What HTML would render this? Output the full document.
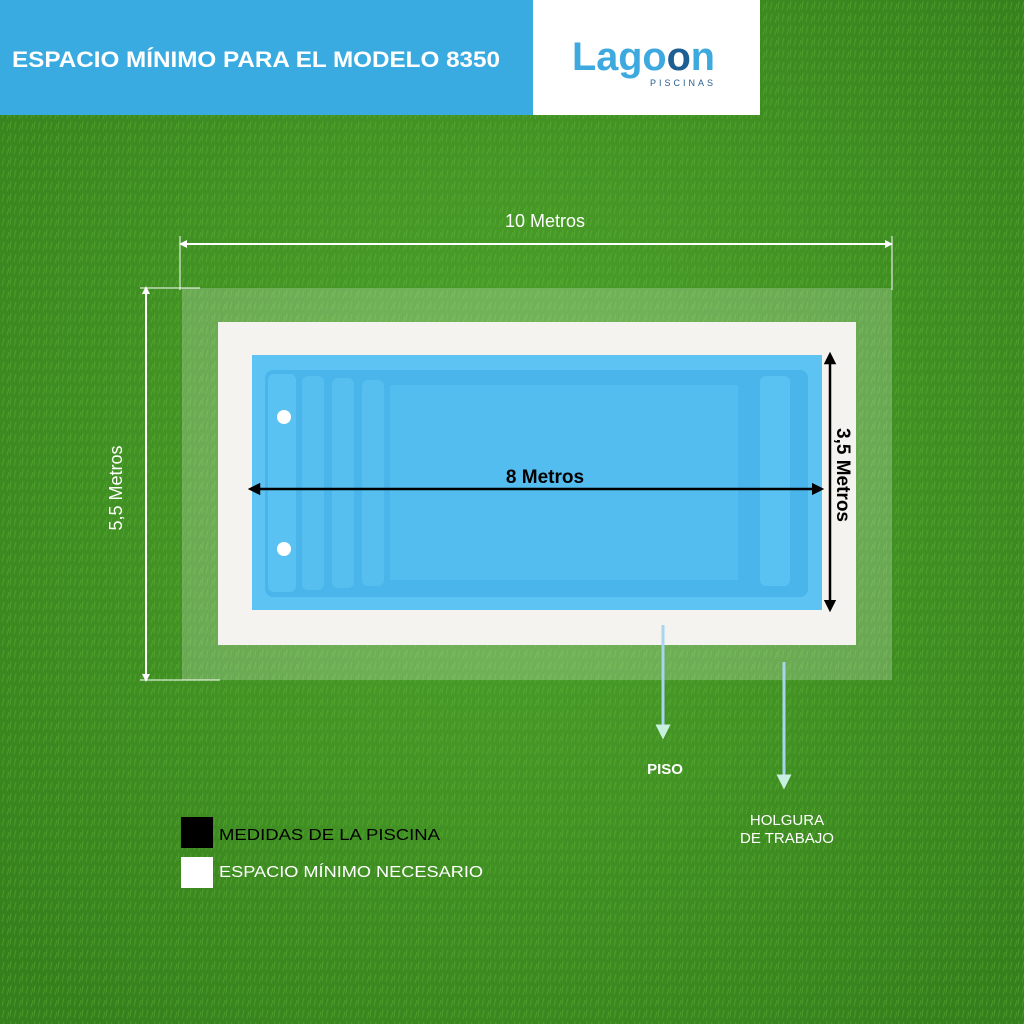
<!DOCTYPE html>
<html><head><meta charset="utf-8"><style>
body{margin:0;width:1024px;height:1024px;overflow:hidden;background:#3f8f22;font-family:"Liberation Sans",sans-serif}
</style></head><body>
<svg width="1024" height="1024" xmlns="http://www.w3.org/2000/svg" style="position:absolute;left:0;top:0">
<defs>
<radialGradient id="g" cx="50%" cy="45%" r="70%"><stop offset="0" stop-color="#4fa52c"/><stop offset="1" stop-color="#357f1c"/></radialGradient>
<pattern id="p" width="12" height="12" patternUnits="userSpaceOnUse"><path d="M2 10 L4 2 M7 11 L9 4 M10 9 L11 1" stroke="#6cc140" stroke-width="1" opacity=".35"/></pattern>
<marker id="a" markerWidth="5" markerHeight="5" refX="2.5" refY="2.5" orient="auto-start-reverse"><path d="M0 0 L5 2.5 L0 5z" fill="#000"/></marker>
<marker id="w" markerWidth="4" markerHeight="4" refX="2" refY="2" orient="auto-start-reverse"><path d="M0 0 L4 2 L0 4z" fill="#fff"/></marker>
<marker id="c" markerWidth="5" markerHeight="5" refX="2.5" refY="2.5" orient="auto"><path d="M0 0 L5 2.5 L0 5z" fill="#c8f0e0"/></marker>
</defs>
<rect width="1024" height="1024" fill="url(#g)"/>
<rect width="1024" height="1024" fill="url(#p)"/>
<rect x="0" y="0" width="533" height="115" fill="#3aabe0"/>
<text x="12" y="67" fill="#fff" font-size="22" font-weight="bold" textLength="488" lengthAdjust="spacingAndGlyphs">ESPACIO MÍNIMO PARA EL MODELO 8350</text>
<rect x="533" y="0" width="227" height="115" fill="#fff"/>
<text x="572" y="70" fill="#3ea9df" font-size="40" font-weight="bold" textLength="143" lengthAdjust="spacingAndGlyphs">Lago<tspan fill="#1e5f93">o</tspan>n</text>
<text x="650" y="86" fill="#2a5e8e" font-size="9" letter-spacing="3">PISCINAS</text>
<rect x="182" y="288" width="710" height="392" fill="#fff" opacity=".22"/>
<rect x="218" y="322" width="638" height="323" fill="#f5f3ef"/>
<rect x="252" y="355" width="570" height="255" fill="#5cc3f3"/>
<rect x="265" y="370" width="543" height="227" rx="8" fill="#4ab5ea"/>
<rect x="268" y="374" width="28" height="218" rx="6" fill="#5ac2f2"/>
<rect x="302" y="376" width="22" height="214" rx="6" fill="#56bff0"/>
<rect x="332" y="378" width="22" height="210" rx="6" fill="#56bff0"/>
<rect x="362" y="380" width="22" height="206" rx="6" fill="#56bff0"/>
<rect x="390" y="385" width="348" height="195" fill="#53bdef"/>
<rect x="760" y="376" width="30" height="210" rx="6" fill="#5ac2f2"/>
<circle cx="284" cy="417" r="7" fill="#fff"/>
<circle cx="284" cy="549" r="7" fill="#fff"/>
<line x1="183" y1="244" x2="889" y2="244" stroke="#fff" stroke-width="2" marker-start="url(#w)" marker-end="url(#w)"/>
<line x1="180" y1="236" x2="180" y2="290" stroke="#fff" stroke-width="1"/>
<line x1="892" y1="236" x2="892" y2="290" stroke="#fff" stroke-width="1"/>
<text x="545" y="227" fill="#fff" font-size="18" text-anchor="middle">10 Metros</text>
<line x1="146" y1="290" x2="146" y2="678" stroke="#fff" stroke-width="2" marker-start="url(#w)" marker-end="url(#w)"/>
<line x1="140" y1="288" x2="200" y2="288" stroke="#fff" stroke-width="1"/>
<line x1="140" y1="680" x2="220" y2="680" stroke="#fff" stroke-width="1"/>
<text transform="translate(122 488) rotate(-90)" fill="#fff" font-size="18" text-anchor="middle">5,5 Metros</text>
<line x1="254" y1="489" x2="818" y2="489" stroke="#000" stroke-width="2.5" marker-start="url(#a)" marker-end="url(#a)"/>
<text x="545" y="483" fill="#000" font-size="19" font-weight="bold" text-anchor="middle">8 Metros</text>
<line x1="830" y1="358" x2="830" y2="606" stroke="#000" stroke-width="2.5" marker-start="url(#a)" marker-end="url(#a)"/>
<text transform="translate(837 475) rotate(90)" fill="#000" font-size="19" font-weight="bold" text-anchor="middle">3,5 Metros</text>
<line x1="663" y1="625" x2="663" y2="732" stroke="#a8d4f0" stroke-width="3" marker-end="url(#c)"/>
<line x1="784" y1="662" x2="784" y2="782" stroke="#a8d4f0" stroke-width="3" marker-end="url(#c)"/>
<text x="665" y="774" fill="#fff" font-size="15" font-weight="bold" text-anchor="middle">PISO</text>
<text x="787" y="825" fill="#fff" font-size="15" text-anchor="middle">HOLGURA</text>
<text x="787" y="843" fill="#fff" font-size="15" text-anchor="middle">DE TRABAJO</text>
<rect x="181" y="817" width="32" height="31" fill="#000"/>
<text x="219" y="840" fill="#000" font-size="16" textLength="221" lengthAdjust="spacingAndGlyphs">MEDIDAS DE LA PISCINA</text>
<rect x="181" y="857" width="32" height="31" fill="#fff"/>
<text x="219" y="877" fill="#fff" font-size="16" textLength="264" lengthAdjust="spacingAndGlyphs">ESPACIO MÍNIMO NECESARIO</text>
</svg>
</body></html>
